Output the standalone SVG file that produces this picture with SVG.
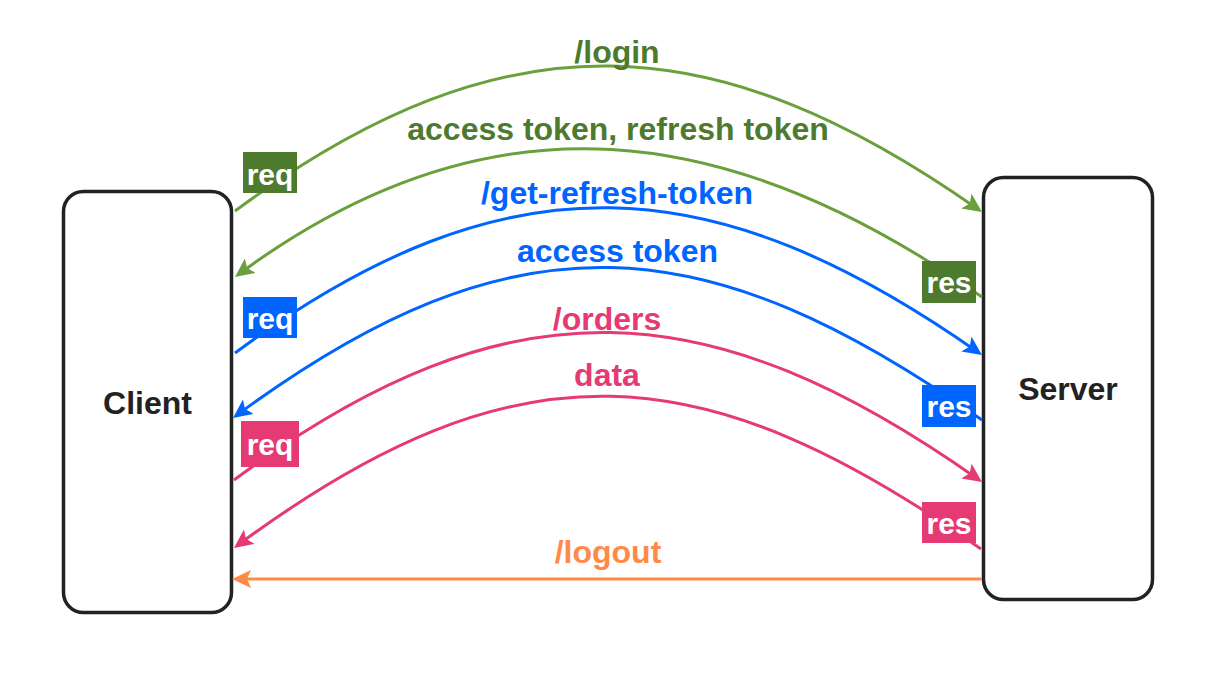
<svg xmlns="http://www.w3.org/2000/svg" width="1231" height="686" viewBox="0 0 1231 686">
  <style>
    .node { fill: #ffffff; stroke: #222222; stroke-width: 3.5; }
    .ntext { font-family: "Liberation Sans", Arial, Helvetica, sans-serif; font-weight: bold; font-size: 32px; fill: #222222; text-anchor: middle; }
    .edge { fill: none; stroke-width: 3; }
    .lbl { font-family: "Liberation Sans", Arial, Helvetica, sans-serif; font-weight: bold; font-size: 32px; text-anchor: middle; }
    .tag { font-family: "Liberation Sans", Arial, Helvetica, sans-serif; font-weight: bold; font-size: 30px; fill: #ffffff; text-anchor: middle; }
    .green { stroke: #6aa03c; }
    .blue { stroke: #0064ff; }
    .pink { stroke: #e63a74; }
    .orange { stroke: #ff8a48; }
  </style>
  <defs>
    <marker id="arrGreen" markerUnits="userSpaceOnUse" viewBox="0 0 19 18" markerWidth="19" markerHeight="18" refX="15" refY="9" orient="auto">
      <path d="M0,0 L19,9 L0,18 L4,9 Z" fill="#6aa03c"/>
    </marker>
    <marker id="arrBlue" markerUnits="userSpaceOnUse" viewBox="0 0 19 18" markerWidth="19" markerHeight="18" refX="15" refY="9" orient="auto">
      <path d="M0,0 L19,9 L0,18 L4,9 Z" fill="#0064ff"/>
    </marker>
    <marker id="arrPink" markerUnits="userSpaceOnUse" viewBox="0 0 19 18" markerWidth="19" markerHeight="18" refX="15" refY="9" orient="auto">
      <path d="M0,0 L19,9 L0,18 L4,9 Z" fill="#e63a74"/>
    </marker>
    <marker id="arrOrange" markerUnits="userSpaceOnUse" viewBox="0 0 19 18" markerWidth="19" markerHeight="18" refX="15" refY="9" orient="auto">
      <path d="M0,0 L19,9 L0,18 L4,9 Z" fill="#ff8a48"/>
    </marker>
  </defs>

  <g id="client">
    <rect class="node" x="63.5" y="191.5" width="168" height="421" rx="20" ry="20"/>
    <text class="ntext" x="147.5" y="414">Client</text>
  </g>
  <g id="server">
    <rect class="node" x="983.5" y="177.5" width="169" height="422" rx="20" ry="20"/>
    <text class="ntext" x="1068" y="400">Server</text>
  </g>

  <g id="connectors">
    <g id="edge-login">
      <path class="edge green" d="M235,211 C507,10 717,26 978.7,209.7" marker-end="url(#arrGreen)"/>
      <text class="lbl" x="617" y="63" fill="#4e7a2e">/login</text>
      <rect x="243" y="152" width="54" height="41" fill="#4e7a2e"/>
      <text class="tag" x="270" y="185">req</text>
    </g>
    <g id="edge-tokens">
      <path class="edge green" d="M982,297 C732,121 492,87 238.2,274.6" marker-end="url(#arrGreen)"/>
      <text class="lbl" x="618" y="140" fill="#4e7a2e">access token, refresh token</text>
      <rect x="922" y="261" width="54" height="42" fill="#4e7a2e"/>
      <text class="tag" x="949" y="293">res</text>
    </g>
    <g id="edge-get-refresh">
      <path class="edge blue" d="M235,353 C509,151 715,168 978.7,352.7" marker-end="url(#arrBlue)"/>
      <text class="lbl" x="617" y="204" fill="#0064ff">/get-refresh-token</text>
      <rect x="243" y="297" width="54" height="41" fill="#0064ff"/>
      <text class="tag" x="270" y="329">req</text>
    </g>
    <g id="edge-access">
      <path class="edge blue" d="M982,420 C706,226 516,209 236.2,415.6" marker-end="url(#arrBlue)"/>
      <text class="lbl" x="617.5" y="262" fill="#0064ff">access token</text>
      <rect x="922" y="385" width="54" height="42" fill="#0064ff"/>
      <text class="tag" x="949" y="417">res</text>
    </g>
    <g id="edge-orders">
      <path class="edge pink" d="M234,480 C511,275 712,292 978.7,479.7" marker-end="url(#arrPink)"/>
      <text class="lbl" x="607" y="330" fill="#e63a74">/orders</text>
      <rect x="241" y="421" width="58" height="46" fill="#e63a74"/>
      <text class="tag" x="270" y="455">req</text>
    </g>
    <g id="edge-data">
      <path class="edge pink" d="M981,549 C704,354 518,338 237.2,545.6" marker-end="url(#arrPink)"/>
      <text class="lbl" x="607" y="386" fill="#e63a74">data</text>
      <rect x="922" y="502" width="54" height="41" fill="#e63a74"/>
      <text class="tag" x="949" y="534">res</text>
    </g>
    <g id="edge-logout">
      <path class="edge orange" d="M982,579 L236,579" marker-end="url(#arrOrange)"/>
      <text class="lbl" x="608" y="563" fill="#ff8a48">/logout</text>
    </g>
  </g>
</svg>
